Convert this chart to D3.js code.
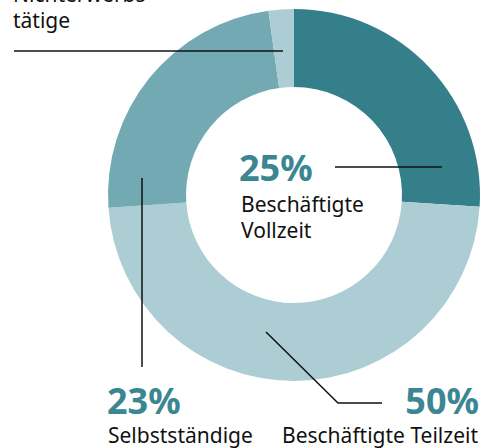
<!DOCTYPE html>
<html>
<head>
<meta charset="utf-8">
<script src="https://cdn.jsdelivr.net/npm/d3@7"></script>
<style>
  body { margin: 0; background: #fff; }
  svg { display: block; }
  text { font-family: "Noto Sans", sans-serif; }
</style>
</head>
<body>
<div id="chart"></div>
<script>
// data
var categories = ["Beschäftigte Vollzeit", "Beschäftigte Teilzeit", "Selbstständige", "Nichterwerbstätige"];
var shares = [26, 47.9, 23.9, 2.2];
var percentLabels = ["25%", "50%", "23%", ""];
var colors = ["#357f8b", "#abcdd3", "#72a9b2", "#abcdd3"];

var width = 494;
var height = 448;
var cx = 294, cy = 195;
var outerR = 186, innerR = 108;

var svg = d3
  .select("#chart")
  .append("svg")
  .attr("width", width)
  .attr("height", height);

var pie = d3.pie().sort(null).value((d) => d.value);
var arc = d3.arc().innerRadius(innerR).outerRadius(outerR);

var data = categories.map((c, i) => ({ name: c, value: shares[i], color: colors[i] }));

var g = svg.append("g").attr("transform", "translate(" + cx + "," + cy + ")");

g.selectAll("path")
  .data(pie(data))
  .enter()
  .append("path")
  .attr("d", arc)
  .attr("fill", (d) => d.data.color);

// leader lines
var lines = [
  [[-280, -144], [-11, -144]],            // Nichterwerbstätige
  [[41, -28], [148, -28]],                // Vollzeit
  [[-152, -17], [-152, 172]],             // Selbstständige
  [[-28, 137], [44, 208], [88, 208]]      // Teilzeit
];
g.selectAll(".leader")
  .data(lines)
  .enter()
  .append("path")
  .attr("class", "leader")
  .attr("d", (d) => d3.line()(d))
  .attr("fill", "none")
  .attr("stroke", "#111")
  .attr("stroke-width", 1.5);

var pctColor = "#3a8692";
var txtColor = "#111";

function pct(x, y, t, anchor) {
  svg.append("text")
    .attr("x", x).attr("y", y)
    .attr("text-anchor", anchor || "start")
    .attr("fill", pctColor)
    .style("font-size", "36px")
    .style("font-weight", "bold")
    .text(t);
}
function label(x, y, lines, anchor) {
  var t = svg.append("text")
    .attr("x", x).attr("y", y)
    .attr("text-anchor", anchor || "start")
    .attr("fill", txtColor)
    .style("font-size", "21px");
  lines.forEach((l, i) => {
    t.append("tspan").attr("x", x).attr("dy", i ? 26 : 0).text(l);
  });
}

// Vollzeit (center)
pct(239, 181, percentLabels[0]);
label(241, 212, ["Beschäftigte", "Vollzeit"]);

// Selbstständige
pct(107, 414, percentLabels[2]);
label(108, 443, [categories[2]]);

// Teilzeit
pct(479, 414, percentLabels[1], "end");
label(478, 443, [categories[1]], "end");

// Nichterwerbstätige (first line runs off the top, as in the source)
label(13, 2, ["Nichterwerbs-", "tätige"]);
</script>
</body>
</html>
